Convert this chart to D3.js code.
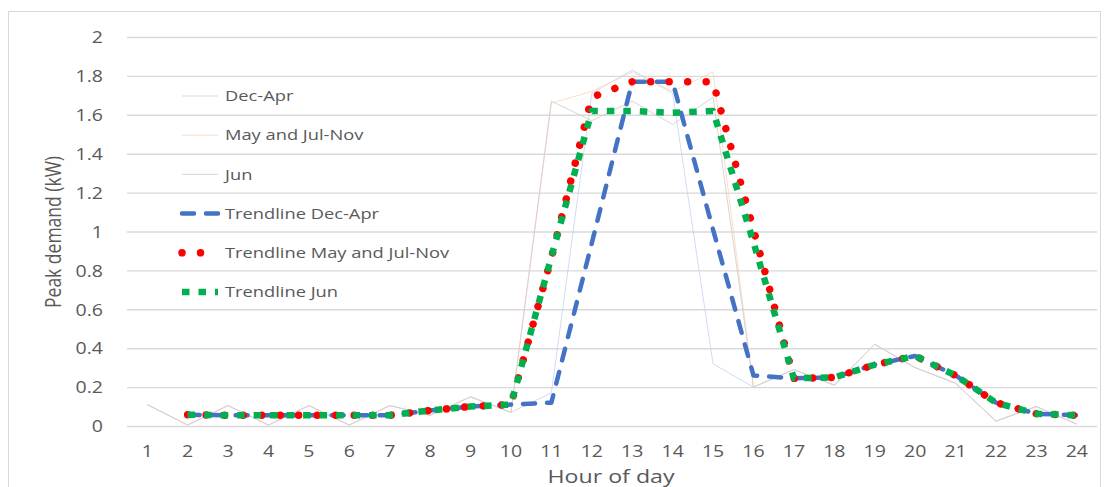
<!DOCTYPE html>
<html>
<head>
<meta charset="utf-8">
<script src="https://cdn.jsdelivr.net/npm/d3@7"></script>
<style>
  body { margin: 0; background: #fff; }
  svg { display: block; }
  text { font-family: "Open Sans", sans-serif; fill: #595959; }
</style>
</head>
<body>
<svg id="chart" width="1105" height="487"></svg>
<script>
// Hour of day categories
const hours = [1, 2, 3, 4, 5, 6, 7, 8, 9, 10, 11, 12, 13, 14, 15, 16, 17, 18, 19, 20, 21, 22, 23, 24];

// Peak demand (kW) per hour for each season
const decApr   = [0.11, 0.005, 0.105, 0.005, 0.105, 0.005, 0.105, 0.055, 0.15, 0.07, 0.17, 1.71, 1.83, 1.71, 0.32, 0.20, 0.29, 0.21, 0.42, 0.30, 0.22, 0.025, 0.10, 0.01];
const mayJulNov = [0.11, 0.005, 0.105, 0.005, 0.105, 0.005, 0.105, 0.055, 0.15, 0.07, 1.66, 1.72, 1.82, 1.72, 1.82, 0.20, 0.29, 0.21, 0.42, 0.30, 0.22, 0.025, 0.10, 0.01];
const jun      = [0.11, 0.005, 0.105, 0.005, 0.105, 0.005, 0.105, 0.055, 0.15, 0.07, 1.67, 1.57, 1.67, 1.55, 1.69, 0.20, 0.29, 0.21, 0.42, 0.30, 0.22, 0.025, 0.10, 0.01];

// Two-period moving-average trendlines, hours 2..24
const trendHours = [2, 3, 4, 5, 6, 7, 8, 9, 10, 11, 12, 13, 14, 15, 16, 17, 18, 19, 20, 21, 22, 23, 24];
const trendDecApr    = [0.058, 0.055, 0.055, 0.055, 0.055, 0.055, 0.08, 0.10, 0.11, 0.12, 0.94, 1.77, 1.77, 1.01, 0.26, 0.245, 0.25, 0.315, 0.36, 0.26, 0.12, 0.063, 0.055];
const trendMayJulNov = [0.058, 0.055, 0.055, 0.055, 0.055, 0.055, 0.08, 0.10, 0.11, 0.865, 1.69, 1.77, 1.77, 1.77, 1.01, 0.245, 0.25, 0.315, 0.36, 0.26, 0.12, 0.063, 0.055];
const trendJun       = [0.058, 0.055, 0.055, 0.055, 0.055, 0.055, 0.08, 0.10, 0.11, 0.87, 1.62, 1.62, 1.61, 1.62, 0.945, 0.245, 0.25, 0.315, 0.36, 0.26, 0.12, 0.063, 0.055];

const yTickValues = [0, 0.2, 0.4, 0.6, 0.8, 1, 1.2, 1.4, 1.6, 1.8, 2];
const yTickLabels = ["0", "0.2", "0.4", "0.6", "0.8", "1", "1.2", "1.4", "1.6", "1.8", "2"];

const seriesNames = ["Dec-Apr", "May and Jul-Nov", "Jun",
                     "Trendline Dec-Apr", "Trendline May and Jul-Nov", "Trendline Jun"];

// Visual styles
const styles = {
  "Dec-Apr":                   { stroke: "#c3d3ee", width: 0.8, dash: null, cap: "butt" },
  "May and Jul-Nov":           { stroke: "#f7d3bd", width: 0.8, dash: null, cap: "butt" },
  "Jun":                       { stroke: "#d8cdcd", width: 0.9, dash: null, cap: "butt" },
  "Trendline Dec-Apr":         { stroke: "#4472c4", width: 4.5, dash: "12 12", cap: "round" },
  "Trendline May and Jul-Nov": { stroke: "#ff0000", width: 7.5, dash: "0.01 18.5", cap: "round" },
  "Trendline Jun":             { stroke: "#00b050", width: 6.5, dash: "7.5 9", cap: "butt" }
};

const SX = 1.22; // horizontal text stretch
const plot = { left: 127, right: 1097, top: 37, bottom: 426 };

const svg = d3.select("#chart");

const x = d3.scaleBand().domain(hours).range([plot.left, plot.right]);
const cx = h => x(h) + x.bandwidth() / 2;
const y = d3.scaleLinear().domain([0, 2]).range([plot.bottom, plot.top]);

// Chart frame
svg.append("rect")
  .attr("x", 8.5).attr("y", 11.5)
  .attr("width", 1092).attr("height", 495)
  .attr("fill", "#fff").attr("stroke", "#d9d9d9");

// Horizontal gridlines and value labels
const yAxis = d3.axisLeft(y)
  .tickValues(yTickValues)
  .tickFormat((d, i) => yTickLabels[i])
  .tickSize(-(plot.right - plot.left));
const gy = svg.append("g").attr("transform", `translate(${plot.left},0)`).call(yAxis);
gy.select(".domain").remove();
gy.selectAll(".tick line").attr("stroke", "#d9d9d9").attr("stroke-width", 1.4);
gy.selectAll(".tick text")
  .attr("x", 0).attr("dy", "0.36em")
  .attr("text-anchor", "end")
  .attr("font-size", 16)
  .attr("transform", `translate(-24,0) scale(${SX},1)`)
  .style("font-family", '"Open Sans", sans-serif').style("fill", "#595959");

// Hour labels
const xAxis = d3.axisBottom(x).tickSize(0);
const gx = svg.append("g").attr("transform", `translate(0,${plot.bottom})`).call(xAxis);
gx.select(".domain").remove();
gx.selectAll(".tick text")
  .attr("y", 0).attr("dy", "0.36em")
  .attr("font-size", 16)
  .attr("transform", `translate(0,25) scale(${SX},1)`)
  .style("font-family", '"Open Sans", sans-serif').style("fill", "#595959");

// Axis titles
svg.append("text")
  .attr("transform", `translate(611,476) scale(${SX},1)`)
  .attr("text-anchor", "middle").attr("dy", "0.35em")
  .attr("font-size", 19)
  .text("Hour of day");

svg.append("text")
  .attr("transform", `translate(54,232) scale(${SX},1) rotate(-90)`)
  .attr("text-anchor", "middle").attr("dy", "0.35em")
  .attr("font-size", 17.5)
  .text("Peak demand (kW)");

// Lines
const line = d3.line().x(d => cx(d[0])).y(d => y(d[1]));
const seriesData = [
  [seriesNames[0], hours.map((h, i) => [h, decApr[i]])],
  [seriesNames[1], hours.map((h, i) => [h, mayJulNov[i]])],
  [seriesNames[2], hours.map((h, i) => [h, jun[i]])],
  [seriesNames[3], trendHours.map((h, i) => [h, trendDecApr[i]])],
  [seriesNames[4], trendHours.map((h, i) => [h, trendMayJulNov[i]])],
  [seriesNames[5], trendHours.map((h, i) => [h, trendJun[i]])]
];

function applyStyle(sel, name) {
  const s = styles[name];
  sel.attr("fill", "none")
    .attr("stroke", s.stroke)
    .attr("stroke-width", s.width)
    .attr("stroke-linecap", s.cap)
    .attr("stroke-linejoin", "round");
  if (s.dash) sel.attr("stroke-dasharray", s.dash);
}

const gLines = svg.append("g");
seriesData.forEach(([name, pts]) => {
  gLines.append("path").datum(pts).attr("d", line).call(applyStyle, name);
});

// Legend
const legend = svg.append("g");
seriesNames.forEach((name, i) => {
  const ly = 96 + 39.2 * i;
  legend.append("line")
    .attr("x1", 182).attr("x2", 218).attr("y1", ly).attr("y2", ly)
    .call(applyStyle, name);
  legend.append("text")
    .attr("transform", `translate(225,${ly}) scale(${SX},1)`)
    .attr("dy", "0.35em")
    .attr("font-size", 15)
    .text(name);
});
</script>
</body>
</html>
